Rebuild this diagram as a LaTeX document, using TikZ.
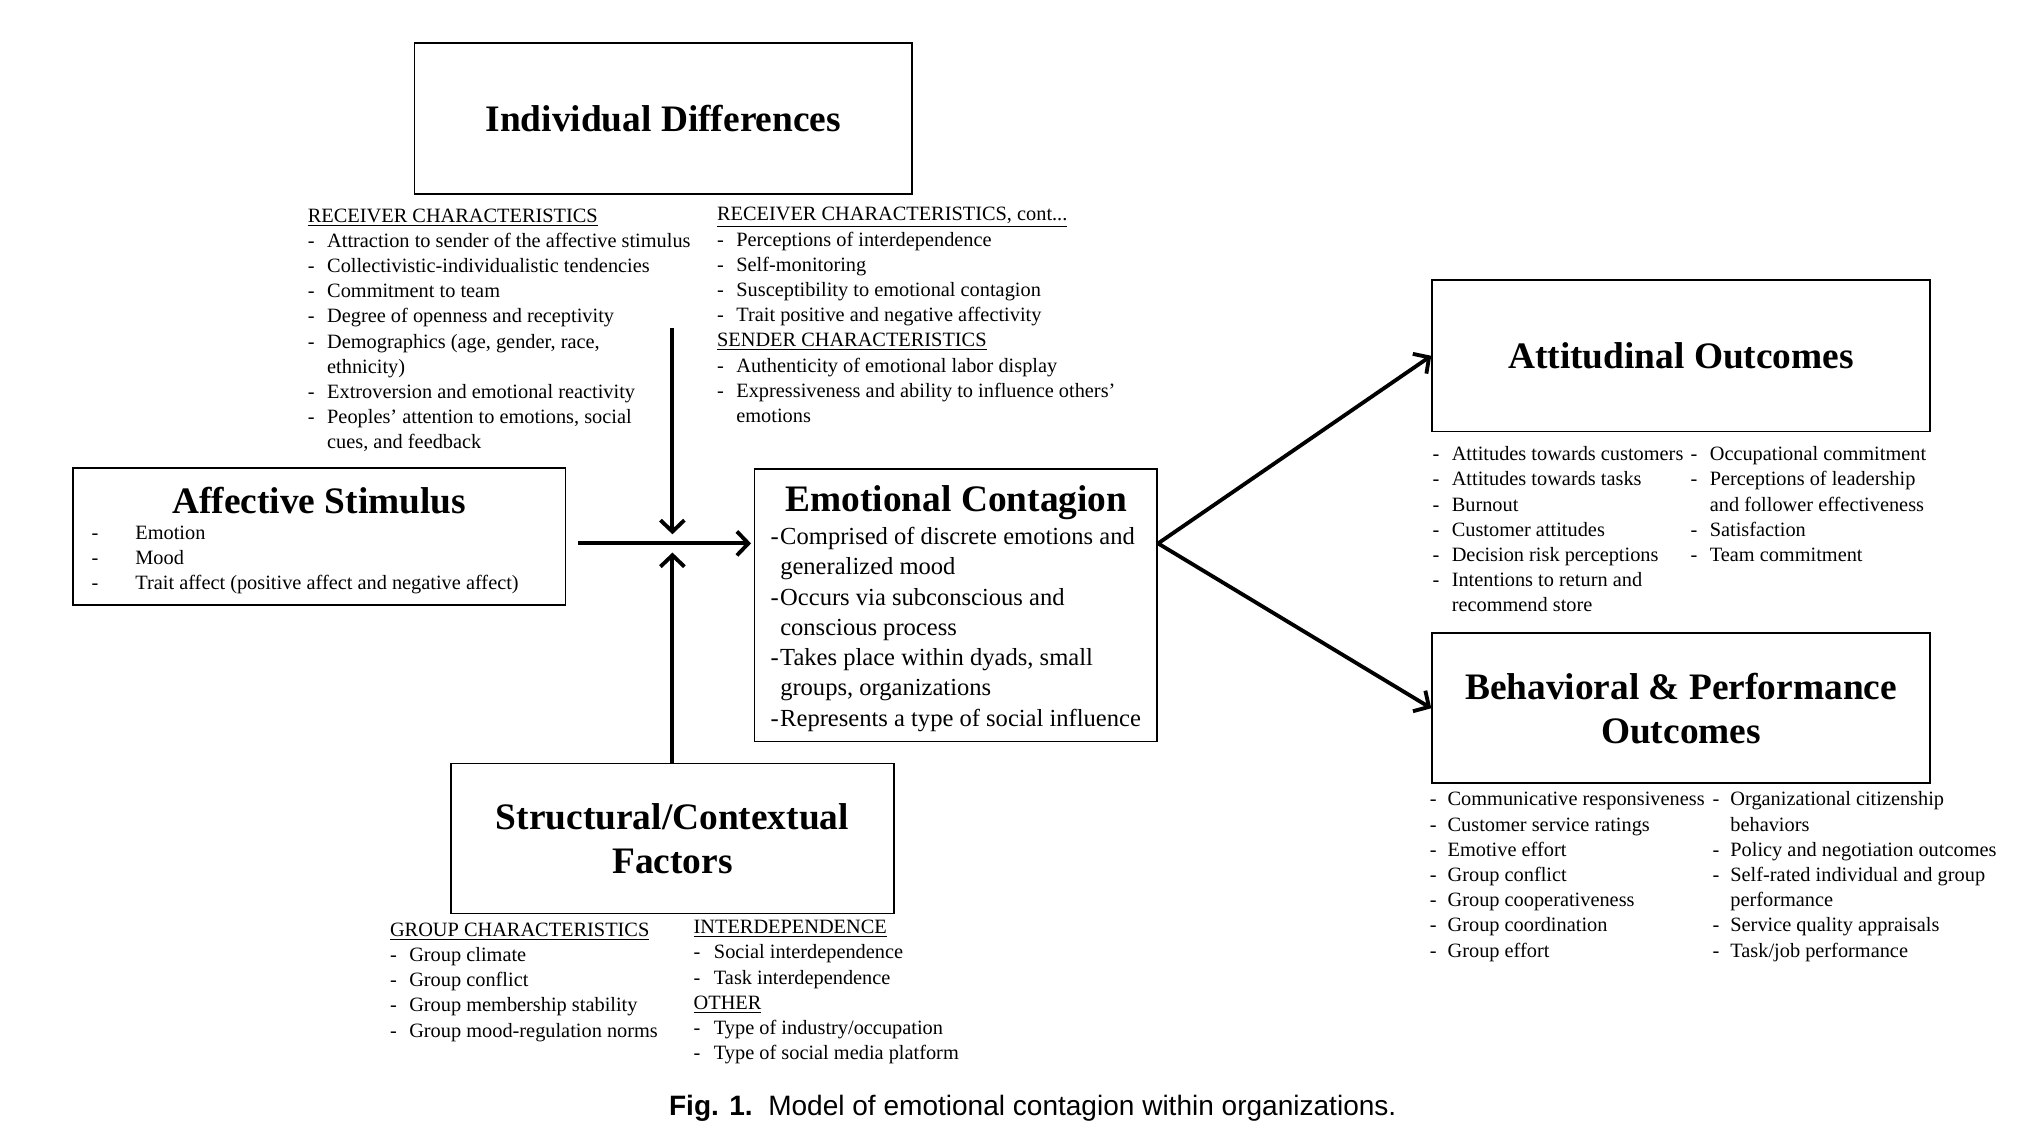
\documentclass[tikz,border=0pt]{standalone}
\usepackage{fontspec}
\setmainfont{Liberation Serif}
\newfontfamily\capfont{Liberation Sans}
\usepackage{tikz}
\usetikzlibrary{arrows.meta}

\begin{document}
\begin{tikzpicture}[x=0.025cm, y=-0.025cm,
    box/.style={draw, line width=0.9pt, inner sep=0pt, align=center,
        font=\bfseries\fontsize{20.4}{24}\selectfont},
    head/.style={font=\bfseries\fontsize{20.4}{24}\selectfont},
    items/.style={anchor=base west, inner sep=0pt, font=\fontsize{11.1}{13.75}\selectfont},
    flow/.style={line width=2.1pt, -{Straight Barb[length=0.22cm,width=0.46cm]}},
]
    \useasboundingbox (0,0) rectangle (1567,879.4);

    % 绘制五个方框
    \node[box, minimum width=9.55cm, minimum height=2.9cm] (indiv) at (509,91) {Individual Differences};
    \node[box, minimum width=9.45cm, minimum height=2.625cm] (affect) at (245,411.5) {};
    \node[box, minimum width=7.725cm, minimum height=5.225cm] (emo) at (733.5,464.5) {};
    \node[box, minimum width=9.55cm, minimum height=2.9cm] (attit) at (1290,273) {Attitudinal Outcomes};
    \node[box, minimum width=9.55cm, minimum height=2.875cm] (behav) at (1290,543.5) {Behavioral \& Performance\\Outcomes};
    \node[box, minimum width=8.5cm, minimum height=2.875cm] (struct) at (516,643.5) {Structural/Contextual\\Factors};

    % 方框内的标题与条目
    \node[head] (affecttitle) at (245,384) {Affective Stimulus};
    \node[items] (affectlist) at (70,414) {
        \begin{tabular}[t]{@{}l@{\hspace{0.71cm}}l@{}}
            - & Emotion\\
            - & Mood\\
            - & Trait affect (positive affect and negative affect)
        \end{tabular}
    };
    \node[head] (emotitle) at (734,385.5) {Emotional Contagion};
    \node[items, font=\fontsize{13.4}{16.5}\selectfont] (emolist) at (591,418) {
        \begin{tabular}[t]{@{}l@{\hspace{0.03cm}}l@{}}
            - & Comprised of discrete emotions and\\
              & generalized mood\\
            - & Occurs via subconscious and\\
              & conscious process\\
            - & Takes place within dyads, small\\
              & groups, organizations\\
            - & Represents a type of social influence
        \end{tabular}
    };

    % Individual Differences 下方的条目
    \node[items] (recv) at (236,170.5) {
        \begin{tabular}[t]{@{}l@{\hspace{0.24cm}}l@{}}
            \multicolumn{2}{@{}l@{}}{\underline{RECEIVER CHARACTERISTICS}}\\
            - & Attraction to sender of the affective stimulus\\
            - & Collectivistic-individualistic tendencies\\
            - & Commitment to team\\
            - & Degree of openness and receptivity\\
            - & Demographics (age, gender, race,\\
              & ethnicity)\\
            - & Extroversion and emotional reactivity\\
            - & Peoples' attention to emotions, social\\
              & cues, and feedback
        \end{tabular}
    };
    \node[items] (recvcont) at (550,169.5) {
        \begin{tabular}[t]{@{}l@{\hspace{0.24cm}}l@{}}
            \multicolumn{2}{@{}l@{}}{\underline{RECEIVER CHARACTERISTICS, cont...}}\\
            - & Perceptions of interdependence\\
            - & Self-monitoring\\
            - & Susceptibility to emotional contagion\\
            - & Trait positive and negative affectivity\\
            \multicolumn{2}{@{}l@{}}{\underline{SENDER CHARACTERISTICS}}\\
            - & Authenticity of emotional labor display\\
            - & Expressiveness and ability to influence others'\\
              & emotions
        \end{tabular}
    };

    % Attitudinal Outcomes 下方的条目
    \node[items] (attitleft) at (1099,353.5) {
        \begin{tabular}[t]{@{}l@{\hspace{0.24cm}}l@{}}
            - & Attitudes towards customers\\
            - & Attitudes towards tasks\\
            - & Burnout\\
            - & Customer attitudes\\
            - & Decision risk perceptions\\
            - & Intentions to return and\\
              & recommend store
        \end{tabular}
    };
    \node[items] (attitright) at (1297,353.5) {
        \begin{tabular}[t]{@{}l@{\hspace{0.24cm}}l@{}}
            - & Occupational commitment\\
            - & Perceptions of leadership\\
              & and follower effectiveness\\
            - & Satisfaction\\
            - & Team commitment
        \end{tabular}
    };

    % Behavioral & Performance Outcomes 下方的条目
    \node[items] (behavleft) at (1097,618.5) {
        \begin{tabular}[t]{@{}l@{\hspace{0.21cm}}l@{}}
            - & Communicative responsiveness\\
            - & Customer service ratings\\
            - & Emotive effort\\
            - & Group conflict\\
            - & Group cooperativeness\\
            - & Group coordination\\
            - & Group effort
        \end{tabular}
    };
    \node[items] (behavright) at (1314,618.5) {
        \begin{tabular}[t]{@{}l@{\hspace{0.21cm}}l@{}}
            - & Organizational citizenship\\
              & behaviors\\
            - & Policy and negotiation outcomes\\
            - & Self-rated individual and group\\
              & performance\\
            - & Service quality appraisals\\
            - & Task/job performance
        \end{tabular}
    };

    % Structural/Contextual Factors 下方的条目
    \node[items] (group) at (299,718.5) {
        \begin{tabular}[t]{@{}l@{\hspace{0.24cm}}l@{}}
            \multicolumn{2}{@{}l@{}}{\underline{GROUP CHARACTERISTICS}}\\
            - & Group climate\\
            - & Group conflict\\
            - & Group membership stability\\
            - & Group mood-regulation norms
        \end{tabular}
    };
    \node[items] (interdep) at (532,716.5) {
        \begin{tabular}[t]{@{}l@{\hspace{0.26cm}}l@{}}
            \multicolumn{2}{@{}l@{}}{\underline{INTERDEPENDENCE}}\\
            - & Social interdependence\\
            - & Task interdependence\\
            \multicolumn{2}{@{}l@{}}{\underline{OTHER}}\\
            - & Type of industry/occupation\\
            - & Type of social media platform
        \end{tabular}
    };

    % 箭头
    \coordinate (meet) at (516,417);
    \coordinate (dtop) at (516,252);
    \coordinate (fork) at (emo.east |- meet);
    \draw[flow, shorten >=0.175cm] (dtop) -- (meet);
    \draw[flow, shorten >=0.175cm] (struct.north) -- (meet);
    \draw[flow, shorten <=0.225cm, shorten >=0.05cm] (affect.east |- meet) -- (emo.west |- meet);
    \draw[flow, line cap=round] (fork) -- (attit.west);
    \draw[flow, line cap=round] (fork) -- (behav.west);

    % 图题
    \node[anchor=base, font=\capfont\fontsize{15.3}{18}\selectfont] (caption) at (792.5,856)
        {\textbf{Fig. 1.}\ \ Model of emotional contagion within organizations.};

\end{tikzpicture}
\end{document}
